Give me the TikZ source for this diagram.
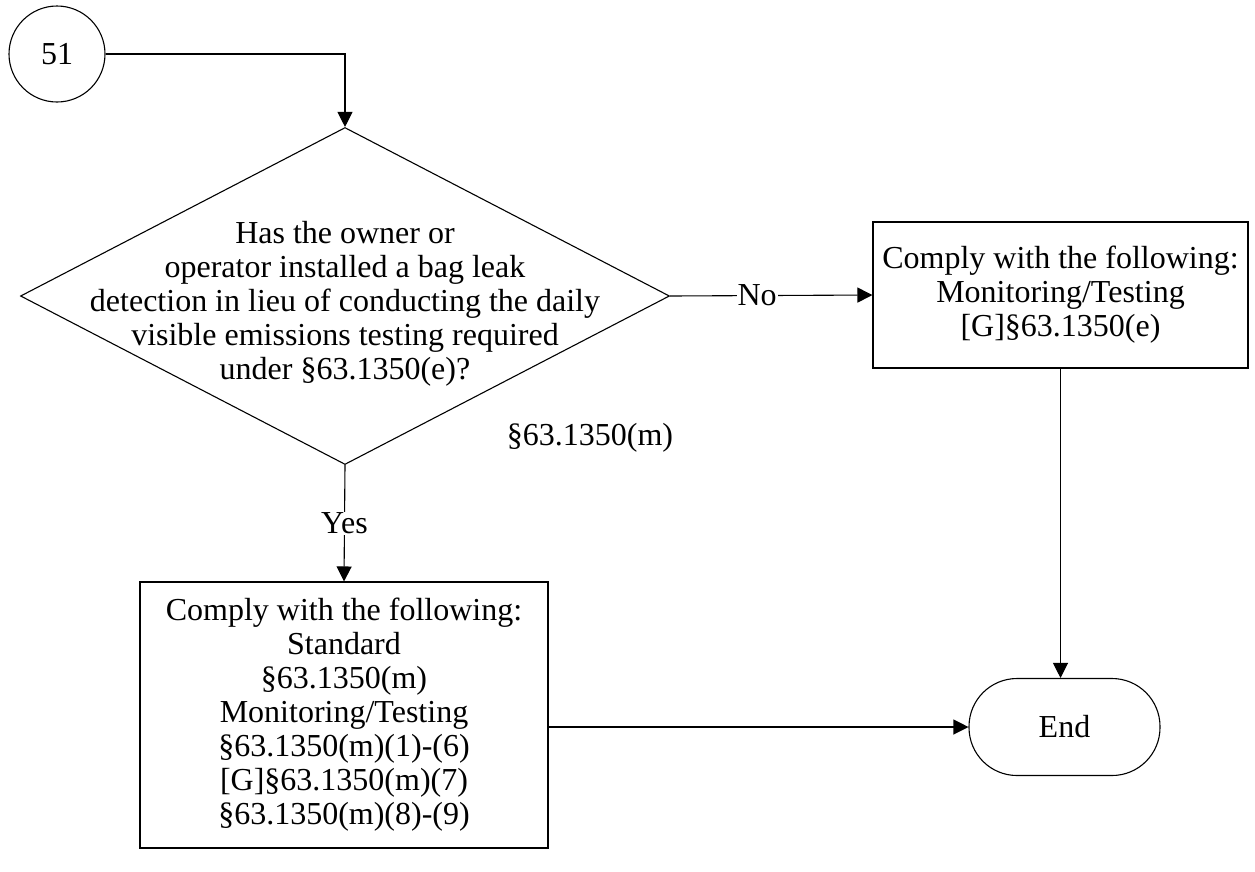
\documentclass[tikz,border=0pt]{standalone}
\usepackage{fontspec}
\setmainfont{Liberation Serif}
\usetikzlibrary{arrows.meta,shapes.geometric}
\begin{document}
\begin{tikzpicture}[x=1pt,y=-1pt,
  every node/.style={font=\fontsize{32}{34}\selectfont, inner sep=0pt},
  arr/.style={line width=1.1pt,-{Triangle[length=15pt,width=15pt]}},
  box/.style={draw,line width=1.1pt,rectangle,align=center},
  lbl/.style={fill=white,inner sep=1pt}]
\useasboundingbox (0,0) rectangle (1255,871);
\node[draw,circle,line width=1.1pt,minimum size=96pt] (c51) at (57,54) {51};
\node[draw,diamond,line width=1.1pt,minimum width=649pt,minimum height=337pt] (dec) at (345,296) {};
\node[align=center] (dectext) at (345,304) {Has the owner or\\operator installed a bag leak\\detection in lieu of conducting the daily\\visible emissions testing required\\under §63.1350(e)?};
\node[box,minimum width=375pt,minimum height=146pt] (rbox) at (1060.5,295) {Comply with the following:\\Monitoring/Testing\\{[G]§63.1350(e)}};
\node[box,minimum width=408pt,minimum height=266pt] (lbox) at (344,715) {Comply with the following:\\Standard\\§63.1350(m)\\Monitoring/Testing\\§63.1350(m)(1)-(6)\\{[G]§63.1350(m)(7)}\\§63.1350(m)(8)-(9)};
\node[draw,line width=1.1pt,rounded corners=48pt,minimum width=191pt,minimum height=97pt] (end) at (1064.5,727) {End};
\node (ref) at (590,438) {§63.1350(m)};
\coordinate (bend) at (345,54);
\draw[arr] (c51.east) -- (bend) -- (dec.north);
\draw[arr] (dec.east) -- node[lbl,pos=0.43] {No} (rbox.west);
\draw[arr] (dec.south) -- node[lbl,pos=0.5] {Yes} (lbox.north);
\draw[arr] (rbox.south) -- (rbox.south |- end.north);
\draw[arr] (lbox.east |- end.west) -- (end.west);
\end{tikzpicture}
\end{document}
